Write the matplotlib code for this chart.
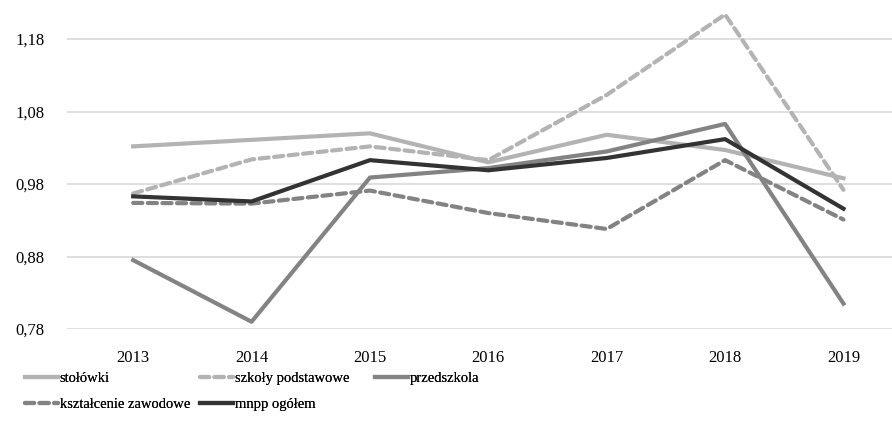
import matplotlib.pyplot as plt

plt.rcParams['font.family'] = ['Liberation Serif', 'DejaVu Serif']

years = ['2013', '2014', '2015', '2016', '2017', '2018', '2019']
stolowki = [1.032, 1.041, 1.050, 1.010, 1.048, 1.027, 0.988]
szkoly = [0.967, 1.014, 1.032, 1.013, 1.103, 1.214, 0.972]
przedszkola = [0.875, 0.790, 0.989, 1.002, 1.025, 1.063, 0.815]
zawodowe = [0.954, 0.953, 0.971, 0.940, 0.918, 1.013, 0.931]
ogolem = [0.963, 0.956, 1.013, 0.999, 1.016, 1.042, 0.946]
yticks = [0.78, 0.88, 0.98, 1.08, 1.18]

fig = plt.figure(figsize=(8.92, 4.41), dpi=100)
ax = fig.add_axes([0.075, 0.254, 0.925, 0.746])

x = list(range(len(years)))
lw = 3.0
dash = (0, (2.2, 1.3))
l1, = ax.plot(x, stolowki, color='#b3b3b3', lw=lw, label='stołówki')
l2, = ax.plot(x, szkoly, color='#b3b3b3', lw=lw, ls=dash, dash_capstyle='round', label='szkoły podstawowe')
l3, = ax.plot(x, przedszkola, color='#838383', lw=lw, label='przedszkola')
l4, = ax.plot(x, zawodowe, color='#838383', lw=lw, ls=dash, dash_capstyle='round', label='kształcenie zawodowe')
l5, = ax.plot(x, ogolem, color='#333333', lw=lw, label='mnpp ogółem')

ax.set_xlim(-0.56, 6.41)
ax.set_ylim(0.78, 1.234)
ax.set_yticks(yticks)
ax.set_yticklabels([('%.2f' % v).replace('.', ',') for v in yticks])
ax.set_xticks(x)
ax.set_xticklabels(years)
ax.grid(axis='y', color='#d9d9d9', lw=1.2)
ax.set_axisbelow(True)
for s in ax.spines.values():
    s.set_visible(False)
ax.tick_params(length=0, labelsize=12)
ax.tick_params(axis='y', pad=16)
ax.tick_params(axis='x', pad=15)

# legend columns placed one by one
columns = [([l1, l4], 25), ([l2, l5], 200), ([l3], 375)]
for handles, px in columns:
    leg = fig.legend(handles=handles, loc='upper left',
                     bbox_to_anchor=(px / 892, 0.156), frameon=False, fontsize=10.5,
                     handlelength=2.25, handletextpad=0.12,
                     labelspacing=0.85, borderpad=0, borderaxespad=0)
    fig.add_artist(leg)

fig.savefig('out.png', dpi=100)
